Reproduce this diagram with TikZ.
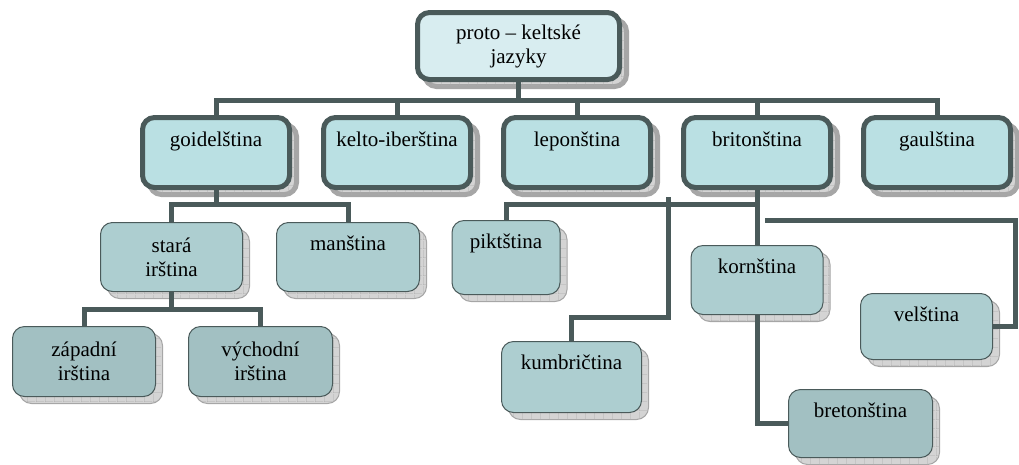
\documentclass[tikz,border=0pt]{standalone}
\usepackage{fontspec}
\setmainfont{Liberation Serif}
\usetikzlibrary{shadows,patterns.meta}
\definecolor{edgegray}{RGB}{74,90,90}
\definecolor{rootfill}{RGB}{216,237,240}
\definecolor{twofill}{RGB}{186,224,227}
\definecolor{threefill}{RGB}{173,206,208}
\definecolor{fourfill}{RGB}{162,192,194}
\definecolor{shadowgray}{RGB}{212,212,212}
\tikzdeclarepattern{
  name=shadowgrid,
  type=uncolored,
  bottom left={(0pt,0pt)},
  top right={(9pt,9pt)},
  tile size={(9pt,9pt)},
  code={\draw[line width=0.6pt] (0pt,0pt) -- (9pt,0pt) (0pt,0pt) -- (0pt,9pt);}
}
\tikzset{
  lang/.style={rectangle, rounded corners=12pt, draw=edgegray, inner sep=0pt,
    drop shadow={shadow xshift=7pt, shadow yshift=-7pt, fill=shadowgray, draw=gray!70, opacity=1,
      postaction={pattern=shadowgrid, pattern color=gray!65}}},
  rootbox/.style={lang, line width=5pt, fill=rootfill, align=center},
  branch/.style={lang, line width=5pt, fill=twofill, minimum width=147pt, text height=29pt, text depth=41pt},
  subbox/.style={lang, line width=1pt, fill=threefill},
  leafbox/.style={lang, line width=1pt, fill=fourfill},
  toptext/.style={text height=28pt, text depth=#1},
  link/.style={draw=edgegray, line width=5pt}
}
\begin{document}
\begin{tikzpicture}[x=1pt, y=-1pt, font=\fontsize{21}{24}\selectfont]
\useasboundingbox (0,0) rectangle (1019,464);
% top
\node[rootbox, minimum width=202pt, minimum height=67pt] (proto) at (518.5,46) {proto – keltské\\jazyky};
% second row
\node[branch] (goidel) at (216,152.5) {goidelština};
\node[branch] (kelto) at (397,152.5) {kelto-iberština};
\node[branch] (lepon) at (577,152.5) {leponština};
\node[branch] (briton) at (757,152.5) {britonština};
\node[branch] (gaul) at (937,152.5) {gaulština};
% goidel branch
\node[subbox, align=center, minimum width=142pt, minimum height=69pt] (stara) at (171.5,257) {stará\\irština};
\node[subbox, toptext=41pt, minimum width=143pt] (mans) at (348,257) {manština};
\node[leafbox, align=center, minimum width=143pt, minimum height=70pt] (zapad) at (84,361.5) {západní\\irština};
\node[leafbox, align=center, minimum width=144pt, minimum height=70pt] (vychod) at (260.5,361.5) {východní\\irština};
% briton branch
\node[subbox, toptext=46pt, minimum width=108pt] (pikt) at (506,257.5) {piktština};
\node[subbox, toptext=43pt, minimum width=140pt] (kumbr) at (571.5,377) {kumbričtina};
\node[subbox, toptext=41pt, minimum width=132pt] (korn) at (757,280) {kornština};
\node[subbox, toptext=38pt, minimum width=132pt] (vels) at (926.5,326.5) {velština};
\node[leafbox, toptext=40pt, minimum width=144pt] (breton) at (860.5,423.5) {bretonština};

\coordinate (topbus) at (0,100);
\coordinate (gbus) at (0,204);
\coordinate (sbus) at (0,309);
\coordinate (kumtop) at (668,197);
\coordinate (kumbend) at (668,317);
\coordinate (velstart) at (765,220);
\coordinate (velcorner) at (1015,220);

\draw[link] (proto.south) -- (proto.south |- topbus);
\draw[link] (goidel.north) -- (goidel.north |- topbus) -- (gaul.north |- topbus) -- (gaul.north);
\foreach \n in {kelto,lepon,briton}
  \draw[link] (\n.north) -- (\n.north |- topbus);

\draw[link] (goidel.south) -- (goidel.south |- gbus);
\draw[link] (stara.north) -- (stara.north |- gbus) -- (mans.north |- gbus) -- (mans.north);
\draw[link] (stara.south) -- (stara.south |- sbus);
\draw[link] (zapad.north) -- (zapad.north |- sbus) -- (vychod.north |- sbus) -- (vychod.north);

\draw[link] (briton.south) -- (korn.north);
\draw[link] (pikt.north) -- (pikt.north |- gbus) -- (korn.north |- gbus);
\draw[link] (kumbr.north) -- (kumbr.north |- kumbend) -- (kumbend) -- (kumtop);
\draw[link] (vels.east) -| (velcorner) -- (velstart);
\draw[link] (korn.south) |- (breton.west);
\end{tikzpicture}
\end{document}
